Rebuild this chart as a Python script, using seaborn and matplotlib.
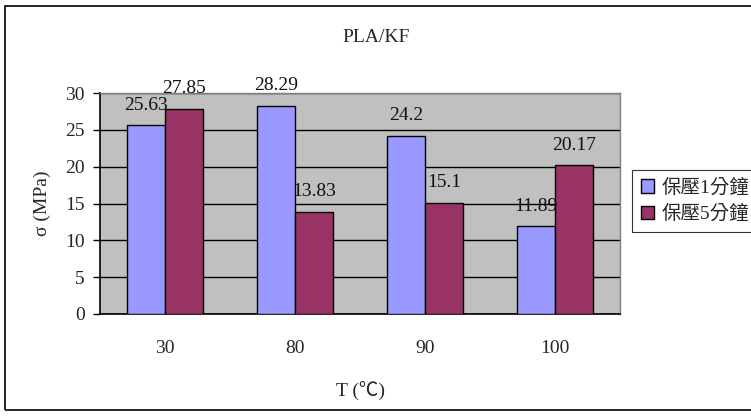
import matplotlib
matplotlib.use("Agg")
import matplotlib.pyplot as plt
import matplotlib.patches as mpatches
import seaborn as sns
import pandas as pd

temps = ["30", "80", "90", "100"]
series_names = ["保壓1分鐘", "保壓5分鐘"]
hold_1min = [25.63, 28.29, 24.2, 11.89]
hold_5min = [27.85, 13.83, 15.1, 20.17]
value_labels_1 = ["25.63", "28.29", "24.2", "11.89"]
value_labels_5 = ["27.85", "13.83", "15.1", "20.17"]
y_ticks = [0, 5, 10, 15, 20, 25, 30]
colors = ["#9999FF", "#993366"]

df = pd.DataFrame({
    "T": temps * 2,
    "sigma": hold_1min + hold_5min,
    "series": [series_names[0]] * 4 + [series_names[1]] * 4,
})

sns.set_theme(style="white")
plt.rcParams["font.family"] = ["Liberation Serif", "Noto Sans CJK TC", "DejaVu Sans"]
FS = 14

fig = plt.figure(figsize=(7.51, 4.16), dpi=100)
ax = fig.add_axes([100 / 751, 1 - 314 / 416, 520 / 751, 221 / 416])

sns.barplot(data=df, x="T", y="sigma", hue="series", palette=colors,
            width=0.58, edgecolor="black", linewidth=1.0, saturation=1,
            ax=ax, zorder=3, legend=False)

ax.set_facecolor("#C0C0C0")
ax.set_ylim(0, 30)
ax.set_xlim(-0.5, 3.5)
ax.set_yticks(y_ticks)
ax.set_yticklabels([str(v) for v in y_ticks], fontsize=FS)
ax.yaxis.grid(True, color="black", linewidth=1.0, zorder=1)
ax.set_axisbelow(True)

# category boundaries carry the x tick marks
ax.set_xticks(range(len(temps)))
ax.set_xticklabels(temps, fontsize=FS)
ax.set_xticks([-0.5, 0.5, 1.5, 2.5, 3.5], minor=True)
ax.tick_params(axis="x", which="major", length=0, pad=19)
ax.tick_params(axis="x", which="minor", direction="in", length=5, width=1, color="black")
ax.tick_params(axis="y", which="major", direction="out", length=5, width=1, color="black",
               left=True, pad=6)

for side in ["left", "bottom"]:
    ax.spines[side].set_color("black")
    ax.spines[side].set_linewidth(1.2)
for side in ["top", "right"]:
    ax.spines[side].set_color("#808080")
    ax.spines[side].set_linewidth(1.0)

ax.set_xlabel("T (℃)", fontsize=FS, labelpad=18)
ax.set_ylabel("σ (MPa)", fontsize=FS, labelpad=10)

# value labels above each bar
for container, labels in zip(ax.containers, [value_labels_1, value_labels_5]):
    for bar, text in zip(container, labels):
        ax.annotate(text, (bar.get_x() + bar.get_width() / 2, bar.get_height()),
                    xytext=(0, 14.5), textcoords="offset points",
                    ha="center", va="center", fontsize=FS, color="#111111",
                    annotation_clip=False, zorder=5)

fig.text(376 / 751, 1 - 37 / 416, "PLA/KF", ha="center", va="center", fontsize=FS)

handles = [mpatches.Patch(facecolor=c, edgecolor="black", linewidth=1.0) for c in colors]
leg = fig.legend(handles, series_names, loc="upper left",
                 bbox_to_anchor=(632 / 751, 1 - 170 / 416), fontsize=FS,
                 frameon=True, fancybox=False, handlelength=0.7, handleheight=0.7,
                 handletextpad=0.35, borderpad=0.45, labelspacing=0.4, borderaxespad=0)
leg.get_frame().set_edgecolor("black")
leg.get_frame().set_linewidth(0.8)

# outer chart frame
fig.patches.append(mpatches.Rectangle((5 / 751, 6 / 416), 1.2, 1 - 12 / 416,
                                      transform=fig.transFigure, fill=False,
                                      edgecolor="black", linewidth=1.2))

fig.savefig("out.png", dpi=100, facecolor="white")
